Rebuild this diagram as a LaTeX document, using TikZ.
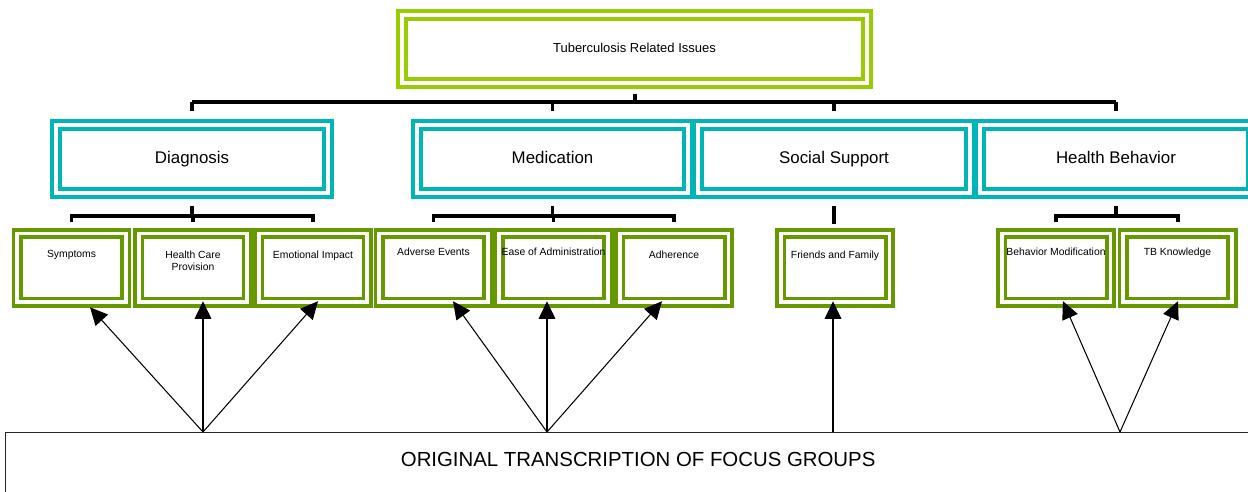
\documentclass[tikz,border=0pt]{standalone}
\usepackage{fontspec}
\setmainfont{Liberation Sans}
\usetikzlibrary{arrows.meta,calc}
\definecolor{tblime}{RGB}{153,204,0}
\definecolor{tbteal}{RGB}{0,181,181}
\definecolor{tbgreen}{RGB}{102,153,0}
\tikzset{
	topbox/.style={draw=tblime, double=white, line width=2.27pt, double distance=2.27pt, minimum width=9.32cm, minimum height=1.36cm, text height=5.6pt, text depth=1.8pt, font=\fontsize{7.4}{9}\selectfont},
	themebox/.style={draw=tbteal, double=white, line width=2.27pt, double distance=2.27pt, minimum width=5.44cm, minimum height=1.36cm, text height=7.2pt, text depth=2.2pt, font=\fontsize{9.6}{11}\selectfont},
	codebox/.style={draw=tbgreen, double=white, line width=2pt, double distance=2.27pt, minimum width=2.18cm, minimum height=1.38cm},
	codetext/.style={anchor=north, yshift=-10.6pt, inner sep=0pt, align=center, font=\fontsize{5.9}{6.8}\selectfont},
	origbox/.style={draw=black!85, line width=0.85pt, minimum width=25.3cm, minimum height=1.6cm},
	origtext/.style={anchor=north, yshift=-11.4pt, inner sep=0pt, font=\fontsize{11.6}{13}\selectfont},
	bar/.style={line width=2.27pt},
	arr/.style={line width=0.6pt, -{Triangle[length=10pt, width=9.5pt]}},
}

\begin{document}
\begin{tikzpicture}[x=0.02cm, y=-0.02cm]
		%%%%% START %%%%%
		\useasboundingbox (0, 0) rectangle (1248, 492);
		
		\node[topbox] (top) at (634.5, 49) {Tuberculosis Related Issues};
		
		\node[themebox] (diag) at (192, 159) {Diagnosis};
		\node[themebox] (med) at (552.5, 159) {Medication};
		\node[themebox] (soc) at (834, 159) {Social Support};
		\node[themebox] (hb) at (1116, 159) {Health Behavior};
		
		\node[codebox, label={[codetext]north:Symptoms}] (sym) at (71.5, 268) {};
		\node[codebox, label={[codetext]north:Health Care\\Provision}] (hcp) at (193, 268) {};
		\node[codebox, label={[codetext]north:Emotional Impact}] (emo) at (313, 268) {};
		\node[codebox, label={[codetext, yshift=1.5pt]north:Adverse Events}] (ae) at (433.5, 268) {};
		\node[codebox, label={[codetext, yshift=1.5pt]north:Ease of Administration}] (eoa) at (553.5, 268) {};
		\node[codebox, label={[codetext]north:Adherence}] (adh) at (674, 268) {};
		\node[codebox, label={[codetext]north:Friends and Family}] (ff) at (835, 268) {};
		\node[codebox, label={[codetext, yshift=1.5pt]north:Behavior Modification}] (bm) at (1056, 268) {};
		\node[codebox, label={[codetext, yshift=1.5pt]north:TB Knowledge}] (tbk) at (1177.5, 268) {};
		
		\node[origbox, anchor=north west, label={[origtext]north:ORIGINAL TRANSCRIPTION OF FOCUS GROUPS}] (orig) at (5, 432) {};
		
		% bus levels
		\coordinate (bus) at (0, 102);
		\coordinate (brk) at (0, 216);
		
		\draw[bar] ($(top.south)+(0, 9)$) -- (top.south |- bus);
		\draw[bar] (diag.north |- bus) -- (hb.north |- bus);
		\foreach \n in {diag, med, soc, hb}
			\draw[bar] (\n.north |- bus) -- ($(\n.north)+(0, -12)$);
		
		\draw[bar] ($(diag.south)+(0, 11)$) -- (diag.south |- brk);
		\draw[bar] ($(sym.north)+(0, -10)$) |- (emo.north |- brk) -- ($(emo.north)+(0, -10)$);
		\draw[bar] (hcp.north |- brk) -- ($(hcp.north)+(0, -10)$);
		
		\draw[bar] ($(med.south)+(0, 11)$) -- (med.south |- brk);
		\draw[bar] ($(ae.north)+(0, -10)$) |- (adh.north |- brk) -- ($(adh.north)+(0, -10)$);
		\draw[bar] (eoa.north |- brk) -- ($(eoa.north)+(0, -10)$);
		
		\draw[bar] ($(soc.south)+(0, 11)$) -- ($(soc.south)+(0, 29)$);
		
		\draw[bar] ($(hb.south)+(0, 11)$) -- (hb.south |- brk);
		\draw[bar] ($(bm.north)+(0, -10)$) |- (tbk.north |- brk) -- ($(tbk.north)+(0, -10)$);
		
		% arrows from the transcription
		\coordinate (fdiag) at (203, 432);
		\coordinate (fmed) at (547, 432);
		\coordinate (fsoc) at (833, 432);
		\coordinate (fhb) at (1120, 432);
		
		\draw[arr] (fdiag) -- ($(sym.south)+(18.5, 3)$);
		\draw[arr] (fdiag) -- ($(hcp.south)+(10, -3)$);
		\draw[arr] (fdiag) -- ($(emo.south)+(5, -3)$);
		\draw[arr] (fmed) -- ($(ae.south)+(19.5, -3)$);
		\draw[arr] (fmed) -- ($(eoa.south)+(-6.5, -3)$);
		\draw[arr] (fmed) -- ($(adh.south)+(-12, -3)$);
		\draw[arr] (fsoc) -- ($(ff.south)+(-2, -3)$);
		\draw[arr] (fhb) -- ($(bm.south)+(7, -3)$);
		\draw[arr] (fhb) -- ($(tbk.south)+(0.5, -3)$);
		
		%%%%% END %%%%%
\end{tikzpicture}
\end{document}
